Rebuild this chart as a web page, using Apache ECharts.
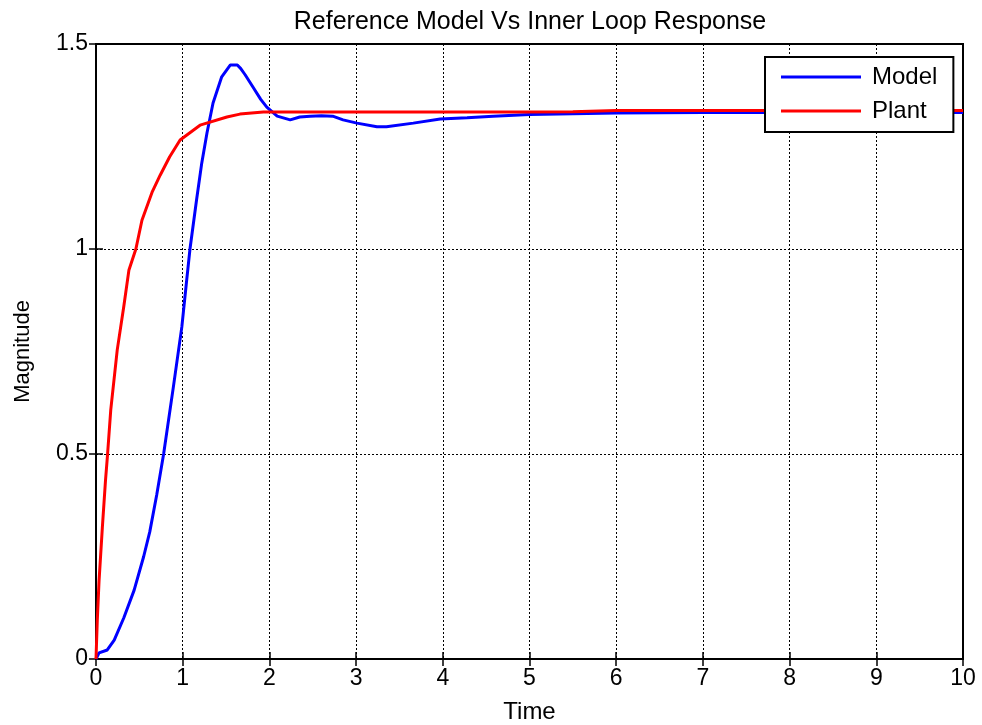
<!DOCTYPE html>
<html>
<head>
<meta charset="utf-8">
<script src="https://cdn.jsdelivr.net/npm/echarts@6/dist/echarts.min.js"></script>
<style>
  html, body { margin: 0; padding: 0; background: #fff; }
  #chart { width: 982px; height: 725px; }
</style>
</head>
<body>
<div id="chart"></div>
<script>
// Step responses sampled over 0..10 s
var modelT = [0, 0.035, 0.13, 0.21, 0.32, 0.44, 0.55, 0.62, 0.70, 0.78, 0.89, 0.99, 1.046, 1.084, 1.16, 1.22, 1.28, 1.35, 1.45, 1.55, 1.63, 1.67, 1.72, 1.81, 1.9, 1.97, 2.09, 2.24, 2.35, 2.47, 2.6, 2.73, 2.85, 3.01, 3.24, 3.35, 3.66, 3.97, 4.28, 4.58, 5.0, 5.5, 6.0, 7, 8, 9, 10];
var modelY = [0, 0.015, 0.022, 0.046, 0.10, 0.168, 0.25, 0.31, 0.40, 0.50, 0.66, 0.81, 0.924, 1.0, 1.12, 1.21, 1.283, 1.356, 1.42, 1.449, 1.449, 1.44, 1.425, 1.395, 1.365, 1.346, 1.324, 1.315, 1.322, 1.324, 1.325, 1.324, 1.315, 1.307, 1.298, 1.298, 1.307, 1.317, 1.32, 1.324, 1.328, 1.33, 1.332, 1.333, 1.333, 1.333, 1.333];

var plantT = [0, 0.015, 0.035, 0.073, 0.11, 0.13, 0.17, 0.245, 0.32, 0.38, 0.46, 0.53, 0.65, 0.74, 0.85, 0.97, 1.2, 1.51, 1.66, 1.93, 2.5, 3, 4, 5, 5.5, 6, 7, 8, 9, 10];
var plantY = [0, 0.095, 0.19, 0.32, 0.437, 0.49, 0.607, 0.754, 0.859, 0.949, 1.0, 1.07, 1.14, 1.18, 1.225, 1.266, 1.302, 1.322, 1.329, 1.334, 1.334, 1.334, 1.334, 1.334, 1.335, 1.338, 1.338, 1.338, 1.338, 1.338];

var xTicks = [0, 1, 2, 3, 4, 5, 6, 7, 8, 9, 10];
var yTicks = [0, 0.5, 1, 1.5];

function pairs(t, y) {
  return t.map(function (v, i) { return [v, y[i]]; });
}

var FONT = '"Liberation Sans", Arial, sans-serif';
var gridLine = { show: true, lineStyle: { color: '#000', width: 1, type: [2, 2] } };
var tick = { show: true, inside: true, length: 7, lineStyle: { color: '#000', width: 1.5 } };

var chart = echarts.init(document.getElementById('chart'), null, { renderer: 'canvas' });
chart.setOption({
  animation: false,
  backgroundColor: '#fff',
  title: {
    text: 'Reference Model Vs Inner Loop Response',
    left: 525, top: 5, textAlign: 'center',
    textStyle: { fontFamily: FONT, fontSize: 25, fontWeight: 'normal', color: '#000' }
  },
  grid: {
    left: 96, right: 19, top: 44, bottom: 66,
    containLabel: false, outerBoundsMode: 'none',
    show: true, borderColor: '#000', borderWidth: 2, backgroundColor: '#fff'
  },
  legend: {
    orient: 'vertical',
    left: 765, top: 57, z: 10,
    backgroundColor: '#fff',
    borderColor: '#000', borderWidth: 2,
    padding: [8, 16, 9, 16],
    itemGap: 10,
    itemWidth: 80, itemHeight: 3,
    icon: 'rect',
    textStyle: { fontFamily: FONT, fontSize: 24, color: '#000', padding: [0, 0, 0, 6] },
    data: ['Model', 'Plant']
  },
  xAxis: [{
    type: 'value', min: 0, max: 10, interval: 1,
    name: 'Time', nameLocation: 'middle', nameGap: 41,
    nameTextStyle: { fontFamily: FONT, fontSize: 24, color: '#000' },
    axisLine: { show: true, lineStyle: { color: '#000', width: 2 } },
    axisTick: tick,
    axisLabel: { fontFamily: FONT, fontSize: 23, color: '#000', margin: 8,
      formatter: function (v) { return xTicks.indexOf(v) >= 0 ? String(v) : ''; } },
    splitLine: gridLine
  }, {
    type: 'value', min: 0, max: 10, interval: 1, position: 'top',
    axisLine: { show: true, lineStyle: { color: '#000', width: 2 } },
    axisTick: tick, axisLabel: { show: false }, splitLine: { show: false }
  }],
  yAxis: [{
    type: 'value', min: 0, max: 1.5, interval: 0.5,
    name: 'Magnitude', nameLocation: 'middle', nameGap: 62, nameRotate: 90,
    nameTextStyle: { fontFamily: FONT, fontSize: 22, color: '#000' },
    axisLine: { show: true, lineStyle: { color: '#000', width: 2 } },
    axisTick: tick,
    axisLabel: { fontFamily: FONT, fontSize: 23, color: '#000', margin: 8,
      formatter: function (v) { return yTicks.indexOf(v) >= 0 ? String(v) : ''; } },
    splitLine: gridLine
  }, {
    type: 'value', min: 0, max: 1.5, interval: 0.5, position: 'right',
    axisLine: { show: true, lineStyle: { color: '#000', width: 2 } },
    axisTick: tick, axisLabel: { show: false }, splitLine: { show: false }
  }],
  series: [{
    name: 'Model', type: 'line', showSymbol: false, smooth: false,
    xAxisIndex: 0, yAxisIndex: 0, z: 2,
    lineStyle: { color: '#0000FF', width: 3 }, itemStyle: { color: '#0000FF' },
    data: pairs(modelT, modelY)
  }, {
    name: 'Plant', type: 'line', showSymbol: false, smooth: false,
    xAxisIndex: 0, yAxisIndex: 0, z: 2,
    lineStyle: { color: '#FF0000', width: 3 }, itemStyle: { color: '#FF0000' },
    data: pairs(plantT, plantY)
  }]
});
</script>
</body>
</html>
